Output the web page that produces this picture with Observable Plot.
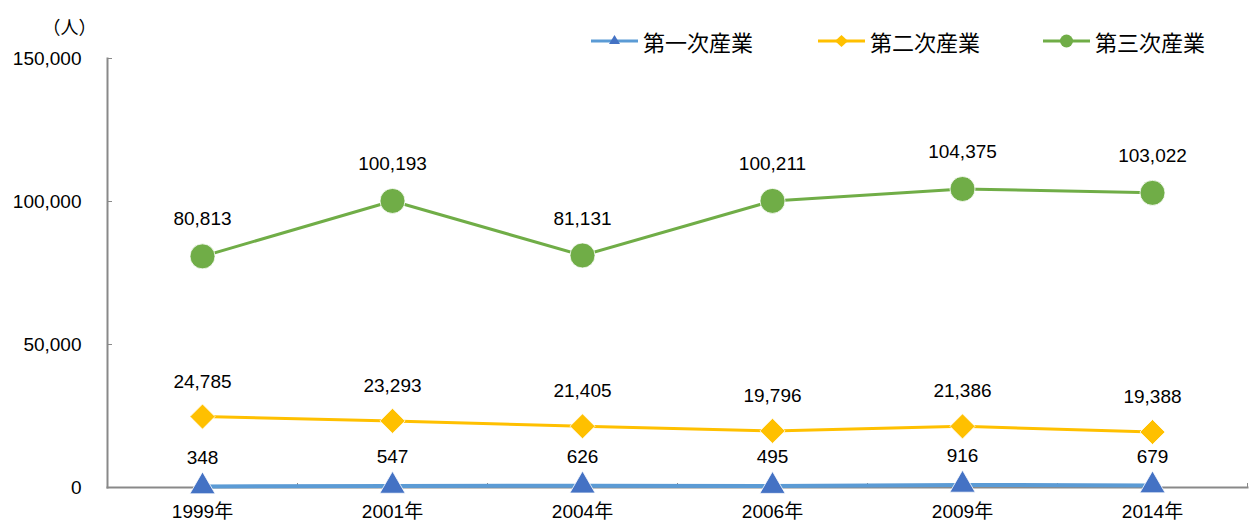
<!DOCTYPE html>
<html lang="ja">
<head>
<meta charset="utf-8">
<script src="https://cdn.jsdelivr.net/npm/d3@7"></script>
<script src="https://cdn.jsdelivr.net/npm/@observablehq/plot@0.6"></script>
<style>
  html, body { margin: 0; padding: 0; background: #fff; }
  #wrap { position: relative; width: 1259px; height: 527px; font-family: "Liberation Sans", "Noto Sans CJK JP", sans-serif; }
  #legend { position: absolute; top: 26px; left: 0; width: 1259px; height: 30px; }
  .item { position: absolute; display: flex; align-items: center; height: 30px; font-size: 22px; line-height: 30px; color: #000; font-family: "Noto Sans CJK JP", sans-serif; }
  .item svg { margin-right: 5px; }
</style>
</head>
<body>
<div id="wrap">
  <div id="chart"></div>
  <div id="legend"></div>
</div>
<script>
// Survey years (x categories)
const years = ["1999年", "2001年", "2004年", "2006年", "2009年", "2014年"];
// Employees by sector (persons)
const primary = [348, 547, 626, 495, 916, 679];
const secondary = [24785, 23293, 21405, 19796, 21386, 19388];
const tertiary = [80813, 100193, 81131, 100211, 104375, 103022];
const seriesNames = ["第一次産業", "第二次産業", "第三次産業"];
const yTicks = [0, 50000, 100000, 150000];

const colors = { primary: "#5B9BD5", primaryMarker: "#4472C4", secondary: "#FFC000", tertiary: "#70AD47" };

const toRows = (vals) => vals.map((v, i) => ({ i, year: years[i], value: v }));
const rows1 = toRows(primary);
const rows2 = toRows(secondary);
const rows3 = toRows(tertiary);

const idx = d3.range(years.length);
const boundaries = idx.map(i => i + 0.5);
const fmt = d3.format(",");
const font = "Liberation Sans, Noto Sans CJK JP, sans-serif";

const chart = Plot.plot({
  width: 1259,
  height: 527,
  marginLeft: 107,
  marginRight: 12,
  marginTop: 58,
  marginBottom: 40,
  style: { fontFamily: font, fontSize: "19px", color: "#000", background: "#fff" },
  x: { type: "linear", domain: [-0.5, years.length - 0.5] },
  y: { domain: [0, 150000] },
  marks: [
    // frame edges (axis lines)
    Plot.frame({ anchor: "left", stroke: "#898989", strokeWidth: 2 }),
    Plot.frame({ anchor: "bottom", stroke: "#898989", strokeWidth: 2 }),
    // y axis labels
    Plot.axisY({ ticks: yTicks, tickFormat: fmt, tickSize: 0, tickPadding: 26, label: null, fontSize: 19 }),
    // inward y ticks
    Plot.axisY({ ticks: yTicks, tickSize: 5, dx: 5, text: null, label: null, stroke: "#898989" }),
    // x axis labels at category centers
    Plot.axisX({ ticks: idx, tickFormat: i => years[i], tickSize: 0, tickPadding: 17, label: null, fontSize: 19 }),
    // upward x ticks at category boundaries
    Plot.axisX({ ticks: boundaries, tickSize: 4, dy: -4, text: null, label: null, stroke: "#898989" }),
    // unit label
    Plot.text(["（人）"], { frameAnchor: "top-left", dx: -65, dy: -37, fontSize: 18, fontFamily: "Noto Sans CJK JP, sans-serif" }),

    // tertiary
    Plot.line(rows3, { x: "i", y: "value", stroke: colors.tertiary, strokeWidth: 3 }),
    Plot.dot(rows3, { x: "i", y: "value", r: 12.5, fill: colors.tertiary, stroke: "#fff", strokeWidth: 0.8 }),
    Plot.text(rows3, { x: "i", y: "value", text: d => fmt(d.value), dy: -37, fontSize: 19 }),

    // secondary
    Plot.line(rows2, { x: "i", y: "value", stroke: colors.secondary, strokeWidth: 3 }),
    Plot.dot(rows2, { x: "i", y: "value", r: 11.3, symbol: "diamond2", fill: colors.secondary, stroke: "#fff", strokeWidth: 0.8 }),
    Plot.text(rows2, { x: "i", y: "value", text: d => fmt(d.value), dy: -35, fontSize: 19 }),

    // primary
    Plot.line(rows1, { x: "i", y: "value", stroke: colors.primary, strokeWidth: 4 }),
    Plot.dot(rows1, { x: "i", y: "value", r: 9.4, symbol: "triangle", fill: colors.primaryMarker, stroke: "#fff", strokeWidth: 0.8 }),
    Plot.text(rows1, { x: "i", y: "value", text: d => fmt(d.value), dy: -29, fontSize: 19 })
  ]
});
document.getElementById("chart").appendChild(chart);

// Legend: line + marker swatches with series names
const legendItems = [
  { name: seriesNames[0], line: colors.primary, fill: colors.primaryMarker, shape: "tri", left: 591 },
  { name: seriesNames[1], line: colors.secondary, fill: colors.secondary, shape: "dia", left: 818 },
  { name: seriesNames[2], line: colors.tertiary, fill: colors.tertiary, shape: "cir", left: 1043 }
];
const legend = document.getElementById("legend");
for (const it of legendItems) {
  const div = document.createElement("div");
  div.className = "item";
  div.style.left = it.left + "px";
  let marker;
  if (it.shape === "tri") marker = `<path d="M23.5,8 L29,17 L18,17 Z" fill="${it.fill}"/>`;
  else if (it.shape === "dia") marker = `<path d="M23.5,8 L30,14 L23.5,20 L17,14 Z" fill="${it.fill}"/>`;
  else marker = `<circle cx="23.5" cy="14" r="6.5" fill="${it.fill}"/>`;
  div.innerHTML = `<svg width="47" height="28"><line x1="0" x2="47" y1="14" y2="14" stroke="${it.line}" stroke-width="3"/>${marker}</svg><span>${it.name}</span>`;
  legend.appendChild(div);
}
</script>
</body>
</html>
